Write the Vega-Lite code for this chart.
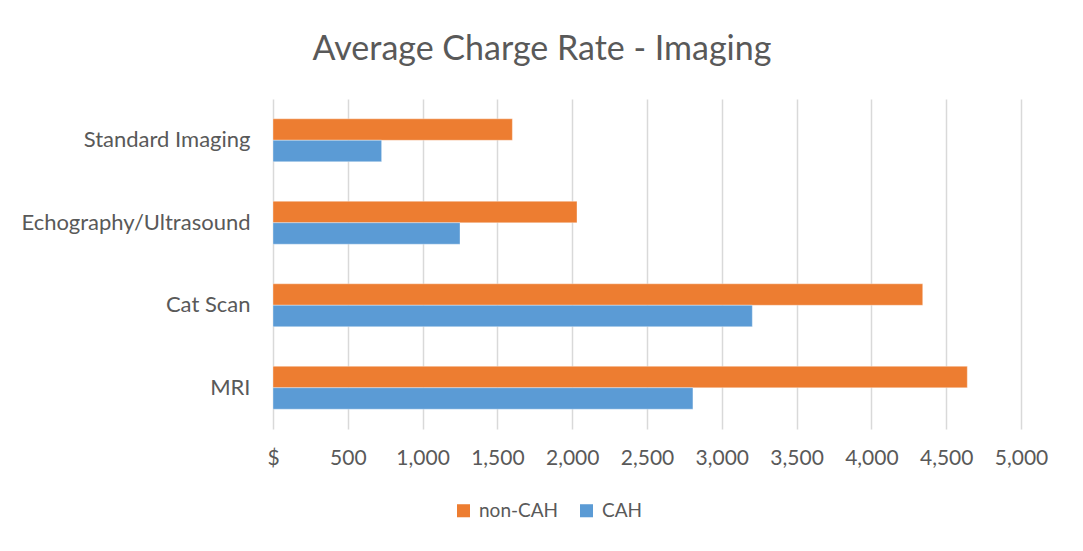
{
  "$schema": "https://vega.github.io/schema/vega-lite/v6.json",
  "autosize": "none",
  "width": 748,
  "height": 330,
  "padding": {"left": 273, "top": 99, "right": 62, "bottom": 122},
  "background": "white",
  "title": {
    "text": "Average Charge Rate - Imaging",
    "font": "Lato",
    "fontSize": 34,
    "fontWeight": "normal",
    "color": "#595959",
    "anchor": "middle",
    "dx": -105,
    "offset": 32
  },
  "data": {
    "values": [
      {"category": "Standard Imaging", "group": "non-CAH", "value": 1600},
      {"category": "Standard Imaging", "group": "CAH", "value": 726},
      {"category": "Echography/Ultrasound", "group": "non-CAH", "value": 2032},
      {"category": "Echography/Ultrasound", "group": "CAH", "value": 1250},
      {"category": "Cat Scan", "group": "non-CAH", "value": 4343},
      {"category": "Cat Scan", "group": "CAH", "value": 3204},
      {"category": "MRI", "group": "non-CAH", "value": 4641},
      {"category": "MRI", "group": "CAH", "value": 2807}
    ]
  },
  "mark": {"type": "bar", "stroke": "white", "strokeOpacity": 0.35, "strokeWidth": 1},
  "encoding": {
    "y": {
      "field": "category",
      "type": "nominal",
      "sort": ["Standard Imaging", "Echography/Ultrasound", "Cat Scan", "MRI"],
      "scale": {"paddingInner": 0.48, "paddingOuter": 0.24},
      "axis": {
        "title": null,
        "domain": false,
        "ticks": false,
        "labelPadding": 23,
        "labelFont": "Lato",
        "labelFontSize": 22,
        "labelColor": "#595959",
        "labelLimit": 300
      }
    },
    "yOffset": {
      "field": "group",
      "type": "nominal",
      "sort": ["non-CAH", "CAH"],
      "scale": {"paddingInner": 0, "paddingOuter": 0}
    },
    "x": {
      "field": "value",
      "type": "quantitative",
      "scale": {"domain": [0, 5000], "nice": false},
      "axis": {
        "title": null,
        "values": [0, 500, 1000, 1500, 2000, 2500, 3000, 3500, 4000, 4500, 5000],
        "labelExpr": "datum.value == 0 ? '$' : format(datum.value, ',')",
        "labelOverlap": false,
        "labelBound": false,
        "labelFlush": false,
        "domain": false,
        "ticks": false,
        "grid": true,
        "gridColor": "#d9d9d9",
        "gridWidth": 1.5,
        "labelPadding": 18,
        "labelFont": "Lato",
        "labelFontSize": 21,
        "labelColor": "#595959"
      }
    },
    "color": {
      "field": "group",
      "type": "nominal",
      "scale": {"domain": ["non-CAH", "CAH"], "range": ["#ED7D31", "#5B9BD5"]},
      "legend": {
        "title": null,
        "orient": "none",
        "direction": "horizontal",
        "legendX": 181,
        "legendY": 402,
        "symbolType": "square",
        "symbolSize": 170,
        "symbolStrokeWidth": 0,
        "labelFont": "Lato",
        "labelFontSize": 19,
        "labelColor": "#595959",
        "columnPadding": 18,
        "labelOffset": 6
      }
    }
  },
  "config": {"view": {"stroke": null}}
}
